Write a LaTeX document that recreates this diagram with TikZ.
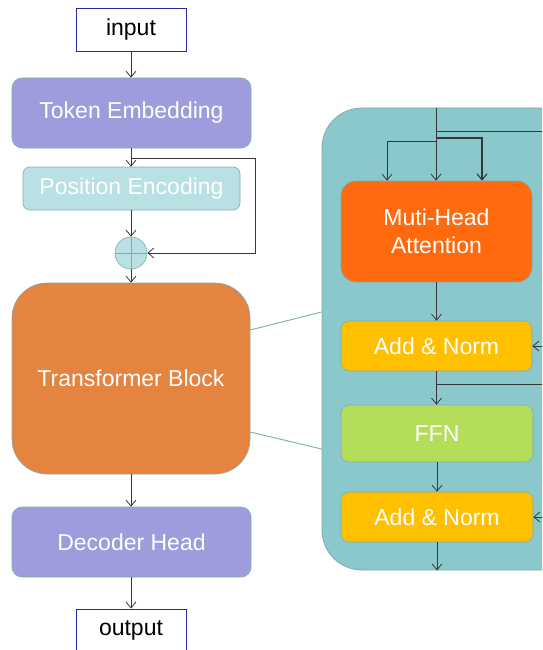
\documentclass[tikz,border=0pt]{standalone}
\usepackage{fontspec}
\setmainfont{Liberation Sans}
\usetikzlibrary{arrows.meta,calc}
\definecolor{lav}{RGB}{158,156,220}
\definecolor{pefill}{RGB}{185,224,226}
\definecolor{tborange}{RGB}{229,131,64}
\definecolor{blkteal}{RGB}{138,200,203}
\definecolor{mhaorange}{RGB}{255,106,14}
\definecolor{anyellow}{RGB}{255,192,0}
\definecolor{ffngreen}{RGB}{180,222,90}
\definecolor{edgec}{RGB}{125,172,175}
\definecolor{navy}{RGB}{40,40,165}
\definecolor{arrc}{RGB}{55,55,55}
\begin{document}
\begin{tikzpicture}[x=1pt,y=-1pt,
  txt/.style={font=\fontsize{23}{28}\selectfont, align=center, inner sep=0pt},
  box/.style={txt, draw=edgec, line width=0.6pt, rounded corners=10pt, text=white},
  iobox/.style={txt, draw=navy, line width=1pt, fill=white, text=black, minimum width=110pt},
  arr/.style={draw=arrc, line width=0.8pt, -{Straight Barb[length=6pt,width=10pt]}},
  wire/.style={draw=arrc, line width=0.8pt},
  link/.style={draw=edgec, line width=0.9pt}]
\clip (0,0) rectangle (542,650);
% left column
\node[iobox, minimum height=43pt] (in) at (131,30) {input};
\node[box, fill=lav, minimum width=239pt, minimum height=70pt] (te) at (131.5,113) {Token Embedding};
\node[box, fill=pefill, minimum width=217pt, minimum height=43pt, rounded corners=7pt] (pe) at (131.5,188.5) {Position Encoding};
\node[circle, draw=edgec, fill=pefill, line width=0.6pt, minimum size=32pt, inner sep=0pt] (plus) at (131,253) {};
\draw[edgec, line width=0.8pt] (plus.north) -- (plus.south) (plus.west) -- (plus.east);
\node[box, fill=tborange, minimum width=238pt, minimum height=191pt, rounded corners=35pt] (tb) at (131,378.5) {Transformer Block};
\node[box, fill=lav, minimum width=239pt, minimum height=70pt] (dh) at (131.5,542) {Decoder Head};
\node[iobox, minimum height=43pt] (out) at (131,630.5) {output};
% arrows left
\draw[arr] (in.south) -- (in.south |- te.north);
\draw[arr] (te.south -| in.south) -- (in.south |- pe.north);
\draw[arr] (in.south |- te.south) ++(0,10) -- ++(124,0) |- (plus.east);
\draw[arr] (pe.south -| plus.north) -- (plus.north);
\draw[arr] (plus.south) -- (plus.south |- tb.north);
\draw[arr] (tb.south -| plus.south) -- (plus.south |- dh.north);
\draw[arr] (dh.south -| plus.south) -- (plus.south |- out.north);
% block container
\node[draw=edgec, fill=blkteal, line width=0.8pt, rounded corners=40pt, minimum width=268pt, minimum height=462pt, inner sep=0pt] (blk) at (456,339) {};
\draw[link] ([yshift=48.5pt]tb.east) -- ([yshift=27pt]blk.west);
\draw[link] ([yshift=-53.5pt]tb.east) -- ([yshift=-110pt]blk.west);
% inner boxes
\node[box, fill=mhaorange, minimum width=191pt, minimum height=101pt, rounded corners=15pt] (mha) at (436.5,231.5) {Muti-Head\\Attention};
\node[box, fill=anyellow, minimum width=191pt, minimum height=50pt, rounded corners=8pt] (an1) at (436.5,346) {Add \& Norm};
\node[box, fill=ffngreen, minimum width=192pt, minimum height=57pt, rounded corners=8pt] (ffn) at (437,433.5) {FFN};
\node[box, fill=anyellow, minimum width=192pt, minimum height=50pt, rounded corners=8pt] (an2) at (437,517) {Add \& Norm};
% inner arrows
\coordinate (stemtop) at (436,108);
\coordinate (bl) at (387,141.5);
\coordinate (br) at (482,138);
\draw[arr] (stemtop) -- (stemtop |- mha.north);
\draw[arr] (436,141.5) -- (bl) -- (bl |- mha.north);
\draw[arr, line width=1.1pt] (436,138) -- (br) -- (br |- mha.north);
\draw[wire] (436,131.5) -- (560,131.5);
\draw[arr] (mha.south) -- (mha.south |- an1.north);
\draw[arr] ($(an1.east)+(30,0)$) -- (an1.east);
\draw[arr] (an1.south) -- (an1.south |- ffn.north);
\draw[wire] (436,384) -- (560,384);
\draw[arr] (ffn.south) -- (ffn.south |- an2.north);
\draw[arr] ($(an2.east)+(30,0)$) -- (an2.east);
\draw[arr] (an2.south) -- (an2.south |- blk.south);
\end{tikzpicture}
\end{document}
